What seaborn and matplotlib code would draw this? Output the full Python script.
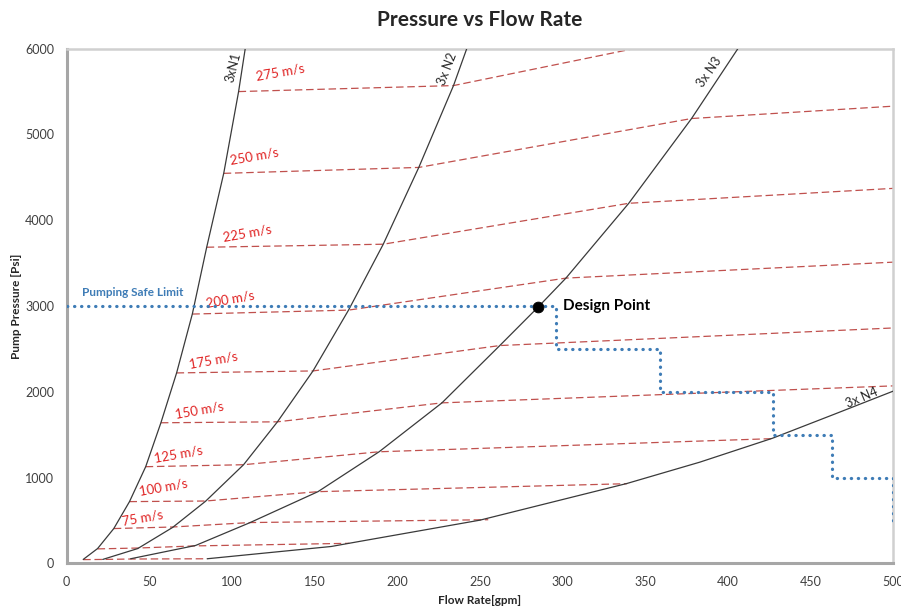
import matplotlib
matplotlib.use("Agg")
import matplotlib.pyplot as plt
import seaborn as sns
import pandas as pd

# ---- pump curves (flow rate gpm, pressure psi) ----
n1_q = [10, 18.7, 28.5, 38, 47.8, 57, 66.5, 76, 84.7, 95, 104, 108]
n1_p = [47, 174, 407, 721, 1128, 1640, 2221, 2907, 3686, 4547, 5500, 6000]
n2_q = [21.8, 43, 64, 84, 107, 127.5, 149, 170.5, 191.5, 213, 234, 242]
n2_p = [47, 174, 419, 725, 1151, 1651, 2244, 2953, 3721, 4616, 5570, 6000]
n3_q = [38.7, 78, 111, 152, 189, 227, 262, 285, 302, 340, 378, 406]
n3_p = [55, 210, 477, 837, 1302, 1872, 2540, 2985, 3326, 4198, 5186, 6000]
n4_q = [85, 160, 178, 250, 339, 383, 427, 464, 500]
n4_p = [55, 198, 260, 505, 933, 1181, 1460, 1737, 2009]
curve_names = ["3xN1", "3x N2", "3x N3", "3x N4"]

# ---- velocity lines ----
v25_q, v25_p = [10, 21.8, 38.7, 85], [45, 47, 52, 55]
v50_q, v50_p = [18.7, 43, 78, 171], [170, 180, 205, 235]
v75_q, v75_p = [28.5, 64, 111, 255], [407, 425, 477, 510]
v100_q, v100_p = [38, 84, 152, 339], [721, 728, 837, 930]
v125_q, v125_p = [47.8, 107, 189, 427], [1128, 1151, 1302, 1455]
v150_q, v150_p = [57, 127.5, 227, 500], [1640, 1651, 1872, 2070]
v175_q, v175_p = [66.5, 149, 262, 500], [2221, 2244, 2540, 2745]
v200_q, v200_p = [76, 170.5, 302, 500], [2907, 2953, 3326, 3512]
v225_q, v225_p = [84.7, 191.5, 340, 500], [3686, 3721, 4198, 4372]
v250_q, v250_p = [95, 213, 378, 500], [4547, 4616, 5186, 5330]
v275_q, v275_p = [104, 234, 343], [5500, 5570, 6000]

vel_labels = ["75 m/s", "100 m/s", "125 m/s", "150 m/s", "175 m/s",
              "200 m/s", "225 m/s", "250 m/s", "275 m/s"]
vel_label_q = [33.3, 43.7, 52.8, 65.9, 74.2, 84.7, 94.7, 99.2, 114.5]
vel_label_p = [484, 837, 1226, 1735, 2314, 3029, 3803, 4696, 5672]

# ---- safe limit step line ----
safe_q = [0, 296, 296, 359, 359, 427, 427, 463, 463, 500, 500]
safe_p = [3000, 3000, 2500, 2500, 2000, 2000, 1500, 1500, 1000, 1000, 500]

design_q = [285]
design_p = [2985]

x_ticks = [0, 50, 100, 150, 200, 250, 300, 350, 400, 450, 500]
y_ticks = [0, 1000, 2000, 3000, 4000, 5000, 6000]

sns.set_theme(style="white")
plt.rcParams["font.family"] = ["Lato", "DejaVu Sans"]

fig = plt.figure(figsize=(9.01, 6.07), dpi=100)
ax = fig.add_axes([0.074, 0.0717, 0.9174, 0.8481])

curve_color = "#3A3A3A"
dash_color = "#C0504D"

curves = [(n1_q, n1_p), (n2_q, n2_p), (n3_q, n3_p), (n4_q, n4_p)]
for q, p in curves:
    df = pd.DataFrame({"q": q, "p": p})
    sns.lineplot(data=df, x="q", y="p", ax=ax, color=curve_color, lw=0.9,
                 estimator=None, sort=False, zorder=3)

vel_lines = [(v25_q, v25_p), (v50_q, v50_p), (v75_q, v75_p), (v100_q, v100_p),
             (v125_q, v125_p), (v150_q, v150_p), (v175_q, v175_p),
             (v200_q, v200_p), (v225_q, v225_p), (v250_q, v250_p),
             (v275_q, v275_p)]
for q, p in vel_lines:
    df = pd.DataFrame({"q": q, "p": p})
    sns.lineplot(data=df, x="q", y="p", ax=ax, color=dash_color, lw=0.9,
                 estimator=None, sort=False, linestyle=(0, (6, 3)), zorder=2)

df_safe = pd.DataFrame({"q": safe_q, "p": safe_p})
sns.lineplot(data=df_safe, x="q", y="p", ax=ax, color="#3E7CB6", lw=2.3,
             estimator=None, sort=False, linestyle=(0, (0.1, 2.1)),
             dash_capstyle="round", zorder=4)

sns.scatterplot(x=design_q, y=design_p, ax=ax, color="black", s=60,
                edgecolor="black", zorder=5)
ax.text(300.3, 3002, "Design Point", fontsize=11, fontweight="bold",
        color="black", ha="left", va="center")
ax.text(9.3, 3154, "Pumping Safe Limit", fontsize=8.5, fontweight="bold",
        color="#3E7CB6", ha="left", va="center")

for lab, q, p in zip(vel_labels, vel_label_q, vel_label_p):
    ax.text(q, p, lab, fontsize=9.5, color="#E02424", rotation=10,
            rotation_mode="anchor", ha="left", va="center")

curve_label_q = [100.6, 230, 389, 480.8]
curve_label_p = [5777, 5765, 5730, 1935]
curve_label_rot = [76, 69, 55, 23]
for lab, q, p, r in zip(curve_names, curve_label_q, curve_label_p, curve_label_rot):
    ax.text(q, p, lab, fontsize=9, color="#262626", rotation=r,
            rotation_mode="anchor", ha="center", va="center")

ax.set_xlim(0, 500)
ax.set_ylim(0, 6000)
ax.set_xticks(x_ticks)
ax.set_yticks(y_ticks)
ax.tick_params(axis="both", length=0, labelsize=9, labelcolor="#404040")
ax.tick_params(axis="x", pad=9)
ax.tick_params(axis="y", pad=9)
ax.set_xlabel("Flow Rate[gpm]", fontsize=8.5, fontweight="bold", labelpad=5)
ax.set_ylabel("Pump Pressure [Psi]", fontsize=8.5, fontweight="bold", labelpad=2)
ax.set_title("Pressure vs Flow Rate", fontsize=15, fontweight="bold", pad=16)
ax.grid(False)

for side in ["left", "bottom"]:
    ax.spines[side].set_color("#A6A6A6")
    ax.spines[side].set_linewidth(2.2)
for side in ["top", "right"]:
    ax.spines[side].set_color("#D0D0D0")
    ax.spines[side].set_linewidth(1.8)

fig.savefig("out.png", dpi=100)
